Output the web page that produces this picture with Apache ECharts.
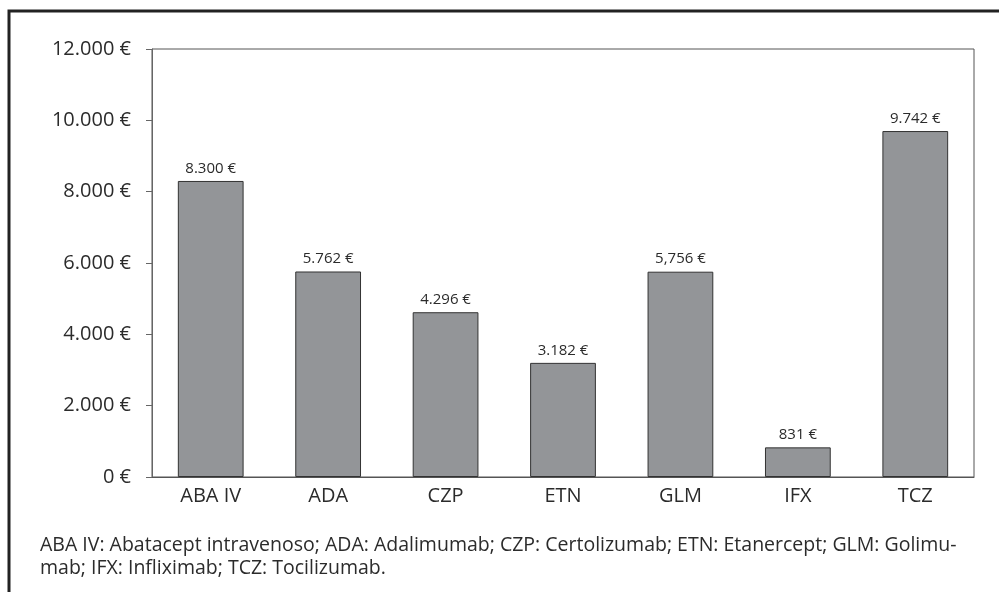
<!DOCTYPE html>
<html>
<head>
<meta charset="utf-8">
<script src="https://cdn.jsdelivr.net/npm/echarts@6/dist/echarts.min.js"></script>
<style>
  html, body { margin: 0; padding: 0; background: #fff; }
  #chart { width: 999px; height: 592px; }
</style>
</head>
<body>
<div id="chart"></div>
<script>
// datos
const categories = ['ABA IV', 'ADA', 'CZP', 'ETN', 'GLM', 'IFX', 'TCZ'];
const costs = [8300, 5762, 4620, 3200, 5756, 831, 9700];
const costLabels = ['8.300 €', '5.762 €', '4.296 €', '3.182 €', '5,756 €', '831 €', '9.742 €'];
const footnote = [
  'ABA IV: Abatacept intravenoso; ADA: Adalimumab; CZP: Certolizumab; ETN: Etanercept; GLM: Golimu-',
  'mab; IFX: Infliximab; TCZ: Tocilizumab.'
];

const font = '"Open Sans", "Noto Sans", sans-serif';
const chart = echarts.init(document.getElementById('chart'));

function euro(v) {
  return String(v).replace(/\B(?=(\d{3})+(?!\d))/g, '.') + ' €';
}

chart.setOption({
  animation: false,
  textStyle: { fontFamily: font },
  grid: {
    left: 152, right: 25, top: 49, bottom: 115,
    show: true,
    borderColor: '#555',
    borderWidth: 1
  },
  xAxis: {
    type: 'category',
    data: categories,
    axisLine: { lineStyle: { color: '#555', width: 1 } },
    axisTick: { show: false },
    axisLabel: { color: '#2b2b2b', fontSize: 20, margin: 9, fontFamily: font }
  },
  yAxis: {
    type: 'value',
    min: 0,
    max: 12000,
    interval: 2000,
    splitLine: { show: false },
    axisLine: { show: true, lineStyle: { color: '#666', width: 1 } },
    axisTick: { show: true, length: 6, lineStyle: { color: '#666' } },
    axisLabel: { color: '#2b2b2b', fontSize: 20, margin: 21, fontFamily: font, formatter: euro }
  },
  series: [{
    type: 'bar',
    data: costs,
    barWidth: '56%',
    itemStyle: { color: '#939598', borderColor: '#333', borderWidth: 1 },
    label: {
      show: true,
      position: 'top',
      distance: 5,
      color: '#2b2b2b',
      fontSize: 15,
      fontFamily: font,
      formatter: p => costLabels[p.dataIndex]
    }
  }],
  graphic: [
    {
      type: 'rect',
      shape: { x: 9, y: 11, width: 1100, height: 700 },
      style: { fill: 'none', stroke: '#222', lineWidth: 3 }
    },
    {
      type: 'text',
      left: 40,
      top: 534,
      style: {
        text: footnote.join('\n'),
        fill: '#2b2b2b',
        font: '19.5px ' + font,
        lineHeight: 23
      }
    }
  ]
});
</script>
</body>
</html>
